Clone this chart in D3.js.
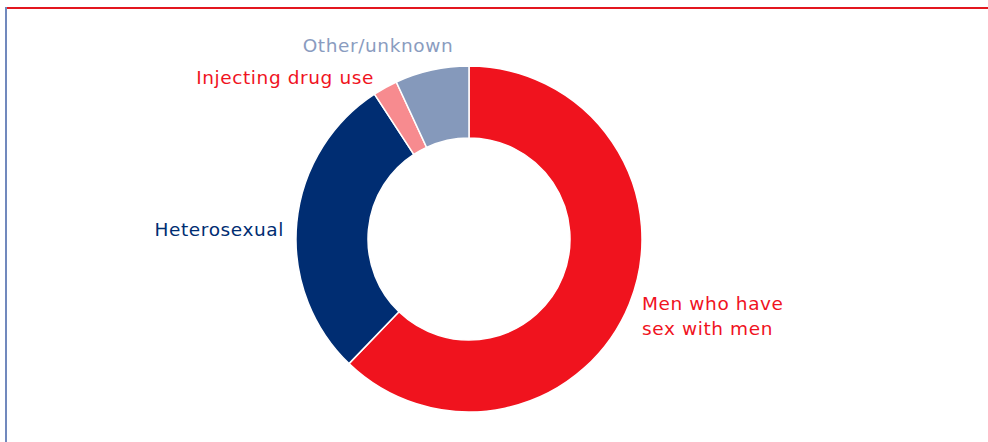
<!DOCTYPE html>
<html>
<head>
<meta charset="utf-8">
<script src="https://cdn.jsdelivr.net/npm/d3@7"></script>
<style>
  body { margin: 0; background: #fff; }
  text { font-family: Verdana, "DejaVu Sans", sans-serif; font-size: 18.5px; letter-spacing: 0.6px; }
</style>
</head>
<body>
<svg id="chart" width="988" height="442"></svg>
<script>
// Data (share of cases, %)
var categories = ["Men who have sex with men", "Heterosexual", "Injecting drug use", "Other/unknown"];
var shares = [62.2, 28.6, 2.3, 6.9];
var labelLines = [["Men who have", "sex with men"], ["Heterosexual"], ["Injecting drug use"], ["Other/unknown"]];

var sliceColors = ["#f0131e", "#002d72", "#f78b8f", "#8599bb"];
var textColors = ["#f0131e", "#002d72", "#f0131e", "#8a9cc0"];

var svg = d3.select("#chart"),
  width = +svg.attr("width"),
  height = +svg.attr("height");

// frame: red top rule, blue left rule
svg.append("line")
  .attr("x1", 5).attr("y1", 8).attr("x2", width).attr("y2", 8)
  .attr("stroke", "#e3171f").attr("stroke-width", 2);
svg.append("line")
  .attr("x1", 6).attr("y1", 7).attr("x2", 6).attr("y2", height)
  .attr("stroke", "#7189bd").attr("stroke-width", 2);

var cx = 469, cy = 239, outerR = 173, innerR = 101;

var pie = d3.pie().sort(null).value(function(d) { return d; });
var arc = d3.arc().innerRadius(innerR).outerRadius(outerR);
var arcs = pie(shares);

var g = svg.append("g").attr("transform", "translate(" + cx + "," + cy + ")");

g.selectAll("path")
  .data(arcs)
  .enter()
  .append("path")
    .attr("d", arc)
    .attr("fill", function(d, i) { return sliceColors[i]; })
    .attr("stroke", "#fff")
    .attr("stroke-width", 1.5);

// label placement (offsets from centre), anchor per label
var labelLayout = [
  { x: 173, y: 71, anchor: "start" },
  { x: -185, y: -3, anchor: "end" },
  { x: -95, y: -155, anchor: "end" },
  { x: -91, y: -187, anchor: "middle" }
];

var labels = g.selectAll("text.lbl")
  .data(arcs)
  .enter()
  .append("text")
    .attr("class", "lbl")
    .attr("x", function(d, i) { return labelLayout[i].x; })
    .attr("y", function(d, i) { return labelLayout[i].y; })
    .attr("text-anchor", function(d, i) { return labelLayout[i].anchor; })
    .attr("fill", function(d, i) { return textColors[i]; });

labels.selectAll("tspan")
  .data(function(d, i) { return labelLines[i]; })
  .enter()
  .append("tspan")
    .attr("x", function() { return d3.select(this.parentNode).attr("x"); })
    .attr("dy", function(d, j) { return j === 0 ? 0 : 25; })
    .text(function(d) { return d; });
</script>
</body>
</html>
